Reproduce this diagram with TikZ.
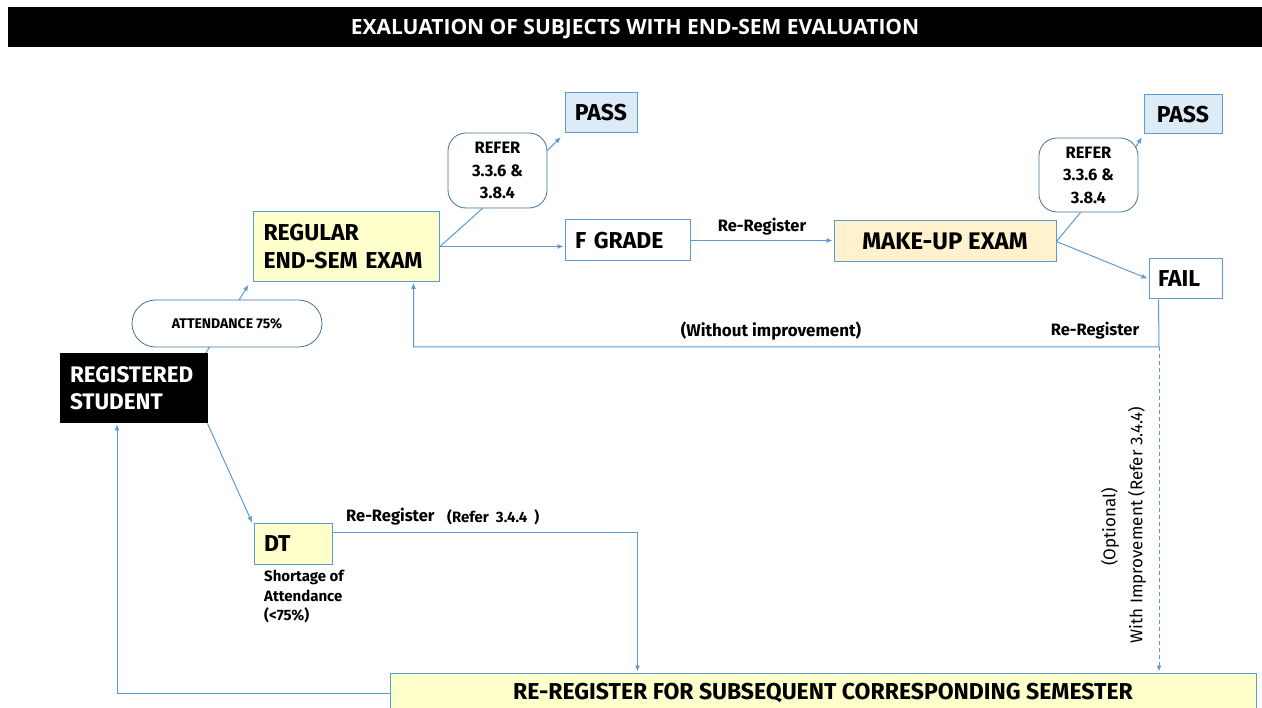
\documentclass[tikz,border=0pt]{standalone}
\usepackage{fontspec}
\setmainfont{Fira Sans}
\newfontfamily\titlefont{Open Sans}
\usetikzlibrary{arrows.meta,backgrounds}
\definecolor{lineblue}{HTML}{5B9BD5}
\definecolor{pillblue}{HTML}{41719C}
\definecolor{passfill}{HTML}{DDEBF7}
\definecolor{regfill}{HTML}{FFFFCC}
\definecolor{makefill}{HTML}{FFF2CC}
\begin{document}
\begin{tikzpicture}[x=1pt,y=-1pt,
	box/.style={draw=lineblue, line width=1pt, inner sep=0pt, font=\bfseries\fontsize{23}{28}\selectfont},
	pill/.style={draw=pillblue, fill=white, line width=0.8pt, inner sep=0pt, font=\bfseries\fontsize{16.5}{22.5}\selectfont},
	line/.style={draw=lineblue, line width=1pt},
	arr/.style={line, -{Latex[length=6pt,width=5pt]}, shorten >=1pt},
	lbl/.style={inner sep=0pt, font=\bfseries\fontsize{16.5}{19}\selectfont}]
	\useasboundingbox (0,0) rectangle (1262,708);
	\node[fill=black, text=white, inner sep=0pt, text depth=0pt, minimum width=1254pt, minimum height=40pt, font=\titlefont\bfseries\fontsize{21}{24}\selectfont] (title) at (635,27) {EXALUATION OF SUBJECTS WITH END-SEM EVALUATION};
	\node[box, fill=black, text=white, draw=black, align=left, text width=127pt, inner xsep=10pt, minimum height=69pt, font=\bfseries\fontsize{22.5}{27}\selectfont] (stud) at (133.5,388.5) {REGISTERED\\STUDENT};
	\node[box, fill=regfill, align=left, text width=166pt, inner xsep=10pt, minimum height=70pt] (reg) at (346.5,246.5) {REGULAR\\END-SEM EXAM};
	\node[box, fill=passfill, minimum width=72pt, minimum height=40pt] (pass1) at (601,113) {PASS};
	\node[box, fill=white, align=left, text width=105pt, inner xsep=10pt, minimum height=41pt] (fgrade) at (627.5,240.5) {F GRADE};
	\node[box, fill=makefill, minimum width=222pt, minimum height=41pt, font=\bfseries\fontsize{24}{28}\selectfont] (makeup) at (945,241.5) {MAKE-UP EXAM};
	\node[box, fill=passfill, minimum width=78pt, minimum height=39pt] (pass2) at (1183,114.5) {PASS};
	\node[box, fill=white, align=left, text width=55pt, inner xsep=9pt, minimum height=40pt] (fail) at (1185.5,279) {FAIL};
	\node[box, fill=regfill, align=left, text width=58pt, inner xsep=10pt, minimum height=40pt] (dt) at (293,544) {DT};
	\node[box, fill=regfill, minimum width=866pt, minimum height=40pt] (rereg) at (823,693) {RE-REGISTER FOR SUBSEQUENT CORRESPONDING SEMESTER};
	\node[pill, rounded corners=18pt, minimum width=99pt, minimum height=75pt, align=center] (refer1) at (497.5,170.5) {REFER\\3.3.6 \&\\3.8.4};
	\node[pill, rounded corners=18pt, minimum width=99pt, minimum height=74pt, align=center] (refer2) at (1088.5,175) {REFER\\3.3.6 \&\\3.8.4};
	\node[pill, rounded corners=23.5pt, minimum width=190pt, minimum height=47pt, font=\bfseries\fontsize{14}{16}\selectfont] (att) at (227,323.5) {ATTENDANCE 75\%};

	\begin{scope}[on background layer]
	\draw[arr] ([xshift=-2pt]stud.north east) -- ([xshift=-4pt,yshift=-2pt]reg.south west);
	\draw[line] (reg.east) -- ([xshift=-15pt]refer1.south);
	\draw[arr] ([yshift=20pt]refer1.east) -- ([xshift=-3pt,yshift=-3pt]pass1.south west);
	\draw[arr] (reg.east) -- (reg.east -| fgrade.west);
	\draw[arr] (fgrade.east) -- (fgrade.east -| makeup.west) node[lbl, midway, above=5pt] (rr1) {Re-Register};
	\draw[line] (makeup.east) -- ([xshift=-8pt]refer2.south);
	\draw[arr] ([xshift=-4pt,yshift=26pt]refer2.east) -- ([xshift=-1pt,yshift=-2pt]pass2.south west);
	\draw[arr] (makeup.east) -- (fail.west);
	\coordinate (fcorner) at (1159,347);
	\draw[arr] ([xshift=10pt]fail.south west) -- (fcorner) -| ([xshift=67pt]reg.south);
	\draw[arr, dash pattern=on 4pt off 3pt] (fcorner) -- (fcorner |- rereg.north);
	\draw[arr] (stud.south east) -- ([xshift=-1pt]dt.north west);
	\draw[arr] ([yshift=11pt]dt.east) -| ([xshift=248pt]rereg.north west);
	\draw[arr] (rereg.west) -| ([xshift=-16.5pt]stud.south);
	\end{scope}

	\node[lbl, font=\bfseries\fontsize{17}{19}\selectfont] (without) at (771,331) {(Without improvement)};
	\node[lbl] (rr2) at (1095,331) {Re-Register};
	\node[lbl, anchor=west] (rr3) at (346,517) {Re-Register};
	\node[lbl, anchor=west, font=\bfseries\fontsize{15}{17}\selectfont] (refdt) at (447,517) {(Refer~~3.4.4~~)};
	\node[lbl, anchor=north west, align=left, font=\bfseries\fontsize{15}{19.5}\selectfont] (short) at (264,570) {Shortage of\\Attendance\\(<75\%)};
	\node[lbl, rotate=90, font=\fontsize{17}{19}\selectfont] (opt) at (1110,527) {(Optional)};
	\node[lbl, rotate=90, font=\fontsize{17}{19}\selectfont] (withimp) at (1137,525) {With Improvement (Refer 3.4.4)};
\end{tikzpicture}
\end{document}
